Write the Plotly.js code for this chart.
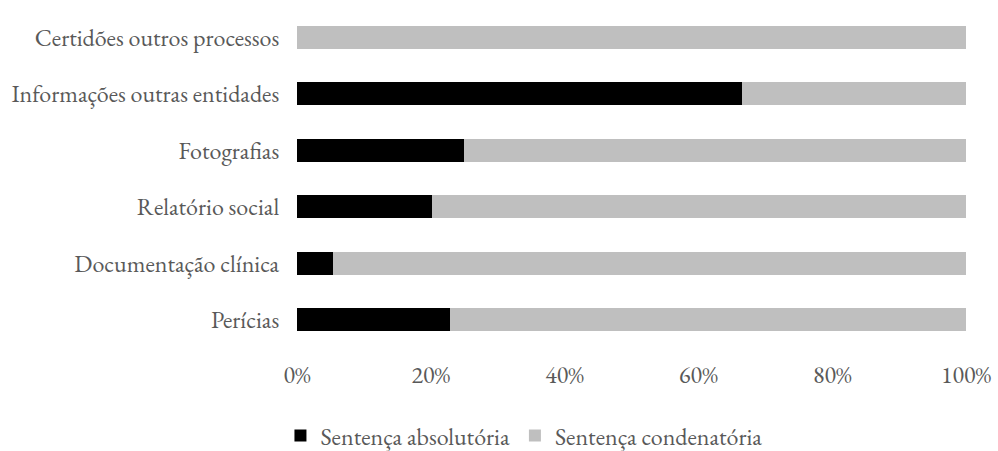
<!DOCTYPE html>
<html><head><meta charset="utf-8">
<script src="https://cdn.plot.ly/plotly-3.0.1.min.js"></script>
<style>html,body{margin:0;padding:0;background:#fff}</style>
</head><body><div id="chart" style="width:998px;height:451px"></div>
<script>
const categories = ["Perícias","Documentação clínica","Relatório social","Fotografias","Informações outras entidades","Certidões outros processos"];
const absolutoria = [22.9, 5.4, 20.2, 25.0, 66.5, 0];
const condenatoria = [77.1, 94.6, 79.8, 75.0, 33.5, 100];
const tickVals = [0,20,40,60,80,100];
const tickText = ["0%","20%","40%","60%","80%","100%"];
const fontFam = "'EB Garamond', Garamond, 'Liberation Serif', serif";
const data = [
 {type:'bar', orientation:'h', y:categories, x:absolutoria, name:'Sentença absolutória', marker:{color:'#000000'}},
 {type:'bar', orientation:'h', y:categories, x:condenatoria, name:'Sentença condenatória', marker:{color:'#bfbfbf'}}
];
const layout = {
 barmode:'stack', bargap:0.6,
 width:998, height:451,
 margin:{l:297, r:32, t:9, b:103, autoexpand:false},
 paper_bgcolor:'#fff', plot_bgcolor:'#fff',
 font:{family:fontFam, size:22, color:'#595959'},
 xaxis:{range:[0,100], tickvals:tickVals, ticktext:tickText, showgrid:false, zeroline:false, showline:false, ticks:'outside', ticklen:5, tickcolor:'rgba(0,0,0,0)', fixedrange:true, tickfont:{size:24,color:'#595959'}},
 yaxis:{showgrid:false, zeroline:false, showline:false, ticks:'outside', ticklen:12, tickcolor:'rgba(0,0,0,0)', tickfont:{size:24,color:'#595959'}},
 legend:{orientation:'h', xref:'container', x:0.525, xanchor:'center', yref:'paper', y:-(436-348)/339, yanchor:'middle', font:{size:24,color:'#595959'}, traceorder:'normal', itemwidth:30, tracegroupgap:0},
 showlegend:true
};
Plotly.newPlot('chart', data, layout, {displayModeBar:false, staticPlot:true});
</script></body></html>
